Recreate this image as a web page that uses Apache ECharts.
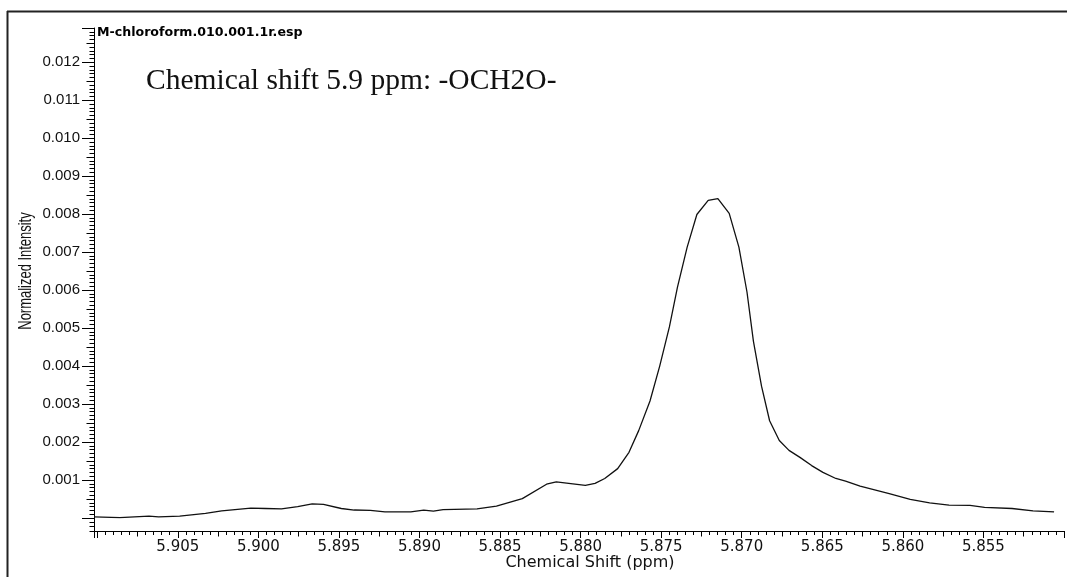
<!DOCTYPE html>
<html>
<head>
<meta charset="utf-8">
<script src="https://cdn.jsdelivr.net/npm/echarts@6/dist/echarts.min.js"></script>
<style>html,body{margin:0;padding:0;background:#fff;}#c{width:1067px;height:577px;}</style>
</head>
<body>
<div id="c"></div>
<script>
// chemical shift (ppm) of each sampled point
const ppm = [5.9102, 5.9086, 5.9068, 5.9062, 5.9049, 5.9033, 5.9023, 5.9005, 5.8996, 5.8986,
  5.8976, 5.8967, 5.8960, 5.8949, 5.8941, 5.8931, 5.8922, 5.8906, 5.8898, 5.8892,
  5.8886, 5.8865, 5.8853, 5.8837, 5.8822, 5.8816, 5.8798, 5.8792, 5.8786, 5.8778,
  5.8771, 5.8765, 5.8758, 5.8752, 5.8746, 5.8741, 5.8735, 5.8729, 5.8722, 5.8716,
  5.8709, 5.8703, 5.8698, 5.8694, 5.8689, 5.8684, 5.8678, 5.8672, 5.8665, 5.8658,
  5.8651, 5.8643, 5.8637, 5.8628, 5.8610, 5.8597, 5.8585, 5.8573, 5.8560, 5.8551,
  5.8534, 5.8521, 5.8508];
// normalized intensity
const intensity = [0.00003, 0.00001, 0.00005, 0.00003, 0.00005, 0.00012, 0.00019, 0.00026, 0.00025, 0.00024,
  0.00030, 0.00037, 0.00036, 0.00025, 0.00021, 0.00020, 0.00016, 0.00016, 0.00021, 0.00018,
  0.00022, 0.00024, 0.00031, 0.00051, 0.00089, 0.00095, 0.00086, 0.00091, 0.00104, 0.00130,
  0.00173, 0.00230, 0.00308, 0.00400, 0.00503, 0.00608, 0.00713, 0.00799, 0.00836, 0.00841,
  0.00802, 0.00713, 0.00595, 0.00465, 0.00347, 0.00256, 0.00204, 0.00178, 0.00159, 0.00138,
  0.00120, 0.00104, 0.00097, 0.00084, 0.00064, 0.00049, 0.00040, 0.00034, 0.00033, 0.00028,
  0.00025, 0.00019, 0.00016];
const xTickLabels = ['5.905', '5.900', '5.895', '5.890', '5.885', '5.880', '5.875', '5.870', '5.865', '5.860', '5.855'];
const yTickLabels = ['0.001', '0.002', '0.003', '0.004', '0.005', '0.006', '0.007', '0.008', '0.009', '0.010', '0.011', '0.012'];
const fileLabel = 'M-chloroform.010.001.1r.esp';
const noteLabel = 'Chemical shift 5.9 ppm: -OCH2O-';
const xName = 'Chemical Shift (ppm)';
const yName = 'Normalized Intensity';

const XMIN = 5.85, XMAX = 5.9102;
const YMAX = 0.0129;
const points = ppm.map((p, i) => [p, intensity[i]]);

const chart = echarts.init(document.getElementById('c'), null, {renderer: 'canvas'});

function xAxisDef(interval, tickLen, labels, line) {
  return {
    type: 'value', gridIndex: 1, position: 'bottom', inverse: true,
    min: XMIN, max: XMAX, interval: interval,
    axisLine: {show: line, onZero: false, lineStyle: {color: '#000', width: 1}},
    axisTick: {show: true, length: tickLen, lineStyle: {color: '#000', width: 1}},
    axisLabel: labels ? {
      show: true, margin: 9, color: '#111', fontFamily: 'DejaVu Sans', fontSize: 15,
      formatter: v => { const s = v.toFixed(3); return xTickLabels.includes(s) ? s : ''; }
    } : {show: false},
    splitLine: {show: false}
  };
}
function yAxisDef(interval, tickLen, labels, line) {
  return {
    type: 'value', gridIndex: 0, position: 'left',
    min: 0, max: YMAX, interval: interval,
    axisLine: {show: line, onZero: false, lineStyle: {color: '#000', width: 1}},
    axisTick: {show: true, length: tickLen, lineStyle: {color: '#000', width: 1}},
    axisLabel: labels ? {
      show: true, margin: 14, color: '#111', fontFamily: 'Liberation Sans', fontSize: 15,
      formatter: v => { const s = v.toFixed(3); return yTickLabels.includes(s) ? s : ''; }
    } : {show: false},
    splitLine: {show: false}
  };
}

const option = {
  animation: false,
  backgroundColor: '#fff',
  grid: [
    {left: 94, right: -8.5, top: 28, bottom: 59},
    {left: 94, right: -8.5, top: 518, height: 13}
  ],
  xAxis: [
    {type: 'value', gridIndex: 0, position: 'bottom', inverse: true, min: XMIN, max: XMAX, show: false,
     axisLine: {onZero: false}},
    xAxisDef(0.005, 7, true, true),
    xAxisDef(0.0025, 5.5, false, false),
    xAxisDef(0.0005, 4, false, false)
  ],
  yAxis: [
    yAxisDef(0.001, 12, true, true),
    yAxisDef(0.0005, 7.5, false, false),
    yAxisDef(0.0001, 4.5, false, false),
    {type: 'value', gridIndex: 1, position: 'left', min: -0.0003, max: 0, interval: 0.0001,
     axisLine: {show: true, onZero: false, lineStyle: {color: '#000', width: 1}},
     axisTick: {show: true, length: 4.5, lineStyle: {color: '#000', width: 1}},
     axisLabel: {show: false}, splitLine: {show: false}}
  ],
  series: [{
    type: 'line', xAxisIndex: 0, yAxisIndex: 0, data: points,
    showSymbol: false, symbol: 'none', smooth: false,
    lineStyle: {color: '#111', width: 1.3}
  }],
  graphic: [
    {type: 'line', shape: {x1: 7.5, y1: 11, x2: 7.5, y2: 577}, style: {stroke: '#222', lineWidth: 2}},
    {type: 'line', shape: {x1: 7, y1: 11.5, x2: 1067, y2: 11.5}, style: {stroke: '#222', lineWidth: 2}},
    {type: 'text', x: 97, y: 33, style: {text: fileLabel, font: 'bold 12.6px "DejaVu Sans"', fill: '#000',
      align: 'left', verticalAlign: 'middle', textAlign: 'left', textVerticalAlign: 'middle'}},
    {type: 'text', x: 146, y: 81, style: {text: noteLabel, font: '29.5px "Liberation Serif"', fill: '#111',
      align: 'left', verticalAlign: 'middle', textAlign: 'left', textVerticalAlign: 'middle'}},
    {type: 'text', x: 590, y: 563, style: {text: xName, font: '16px "DejaVu Sans"', fill: '#111',
      align: 'center', verticalAlign: 'middle', textAlign: 'center', textVerticalAlign: 'middle'}},
    {type: 'text', x: 26, y: 271, rotation: Math.PI / 2, scaleX: 0.72, style: {text: yName,
      font: '18px "Liberation Sans"', fill: '#111',
      align: 'center', verticalAlign: 'middle', textAlign: 'center', textVerticalAlign: 'middle'}}
  ]
};
chart.setOption(option);
</script>
</body>
</html>
